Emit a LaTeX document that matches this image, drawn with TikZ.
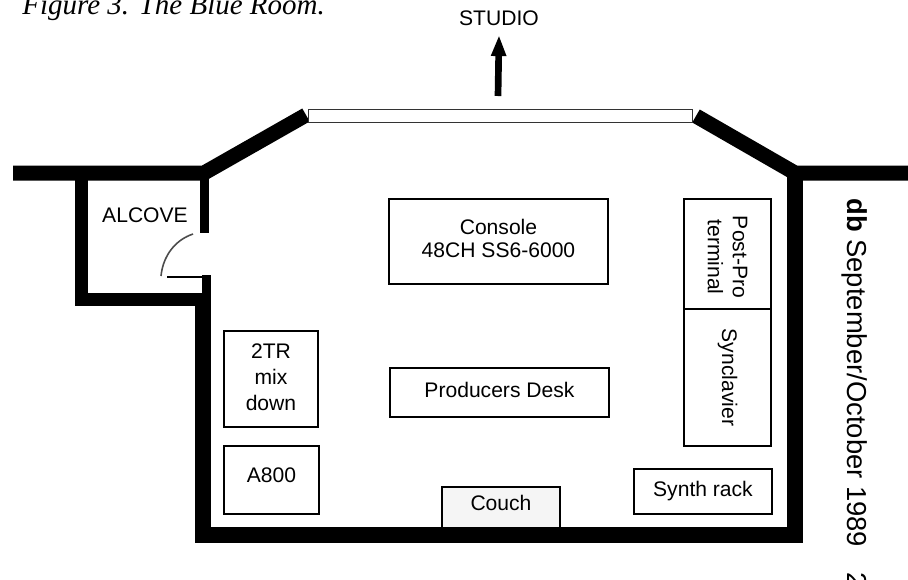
\documentclass[tikz,border=0pt]{standalone}
\usepackage{fontspec}
\setmainfont{Liberation Sans}
\newfontfamily\captionfont{Liberation Serif}
\usetikzlibrary{arrows.meta}
\usetikzlibrary{calc}
\begin{document}
\begin{tikzpicture}[
        x=0.02cm, y=-0.02cm,
        fixedrect/.style={rectangle,draw,line width=1.1pt,anchor=north west,inner sep=0pt,align=center,font=\fontsize{12}{14.2}\selectfont},
        wall/.style={line width=#1*0.02cm,black,line join=miter},
        label text/.style={inner sep=0pt,font=\fontsize{12}{14.2}\selectfont},
        ]
        \useasboundingbox (0,0) rectangle (908,579);

        \coordinate (wall_l) at (13,173);
        \coordinate (wall_r) at (908,173);
        \coordinate (corner_l) at (204,173);
        \coordinate (corner_r) at (795,173);
        \coordinate (win_l) at (306,115);
        \coordinate (win_r) at (696,116);

        % outer walls
        \draw[wall=15] (wall_l) -- (corner_l) -- (win_l);
        \draw[wall=15] (wall_r) -- (corner_r) -- (win_r);
        \draw[wall=16] (corner_r) -- (795,535) -- (203,535) -- (203,299);
        \draw[wall=13] (81,173) -- (81,299) -- (210,299);
        \draw[wall=9] (204,173) -- (204,233);
        \draw[wall=9] (206,275) -- (206,299);
        \draw[line width=1.4pt] (167,277) -- (206,277);
        \draw[line width=0.9pt,black!70] (193,234) .. controls (175,240) and (163,256) .. (161,276);

        % window
        \node[draw,line width=0.8pt,black!80,fill=white,anchor=north west,minimum width=384*0.02cm,minimum height=13*0.02cm,inner sep=0pt](window) at (308,109){};

        \node[label text](studio) at (499,18){STUDIO};
        \coordinate (arrow_tail) at (498,96);
        \draw[line width=3.8pt,black,-{Triangle[length=12pt,width=8pt]}] (arrow_tail) -- (studio.south |- 0,35);

        \node[fixedrect,minimum width=219*0.02cm,minimum height=85*0.02cm,text depth=4pt,font=\fontsize{12}{13.2}\selectfont](console) at (388,198){Console\\48CH SS6-6000};
        \node[fixedrect,minimum width=219*0.02cm,minimum height=49*0.02cm,text depth=3.4pt](desk) at (389,367){Producers Desk};
        \node[fixedrect,minimum width=94*0.02cm,minimum height=96*0.02cm,text depth=2.2pt,font=\fontsize{12}{14.8}\selectfont](mixdown) at (223,330){2TR\\mix\\down};
        \node[fixedrect,minimum width=95*0.02cm,minimum height=68*0.02cm,text depth=5.7pt](aeight) at (223,445){A800};
        \node[fixedrect,fill=black!4,minimum width=118*0.02cm,minimum height=42*0.02cm,text depth=5.7pt](couch) at (441,486){Couch};
        \node[fixedrect,minimum width=138*0.02cm,minimum height=45*0.02cm](synth) at (633,468){Synth rack};
        \node[fixedrect,minimum width=87*0.02cm,minimum height=110*0.02cm](postpro) at (683,198){};
        \node[fixedrect,minimum width=87*0.02cm,minimum height=137*0.02cm](synclavier) at (683,308){};
        \node[label text,align=center,rotate=-90](postpro_text) at ($(postpro.center)+(0,3)$){Post-Pro\\terminal};
        \node[label text,rotate=-90](synclavier_text) at (synclavier.center){Synclavier};

        \draw[wall=16] (441,535) -- (559,535);

        \node[label text](alcove) at (145,215){ALCOVE};

        \node[inner sep=0pt,anchor=base west,font=\captionfont\itshape\fontsize{16.5}{18}\selectfont](figure_caption) at (22,14){Figure 3. The Blue Room.};
        \node[inner sep=0pt,rotate=-90,anchor=base west,font=\fontsize{15.6}{18}\selectfont](journal) at (847,198){\textbf{db} September/October 1989};
        \node[inner sep=0pt,rotate=-90,anchor=base west,font=\fontsize{15.6}{18}\selectfont](page_number) at (847,572){23};
        \end{tikzpicture}
\end{document}
